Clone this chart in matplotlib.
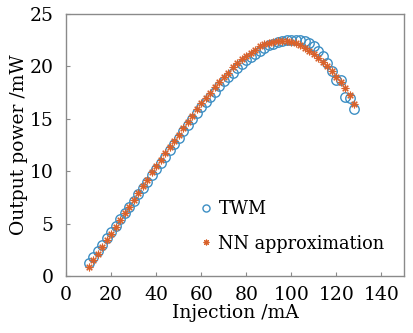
import matplotlib
matplotlib.use("Agg")
import matplotlib.pyplot as plt

# injection current (mA), one sample every 2 mA
injection = list(range(10, 130, 2))

twm_power = [1.2, 1.8, 2.4, 3.0, 3.6, 4.2, 4.8, 5.4, 6.0, 6.6,
             7.2, 7.8, 8.4, 9.0, 9.6, 10.2, 10.8, 11.4, 12.0, 12.6,
             13.2, 13.8, 14.4, 15.0, 15.6, 16.1, 16.6, 17.1, 17.6, 18.1,
             18.6, 19.0, 19.4, 19.8, 20.2, 20.6, 20.9, 21.2, 21.5, 21.8,
             22.0, 22.1, 22.3, 22.4, 22.5, 22.5, 22.5, 22.5, 22.4, 22.2,
             21.9, 21.5, 21.0, 20.3, 19.6, 18.7, 18.7, 17.1, 17.0, 15.9]

nn_power = [0.9, 1.5, 2.1, 2.8, 3.4, 4.0, 4.7, 5.3, 6.0, 6.6,
            7.3, 7.9, 8.6, 9.2, 9.9, 10.5, 11.1, 11.7, 12.3, 12.9,
            13.5, 14.1, 14.7, 15.3, 15.9, 16.5, 17.0, 17.5, 18.0, 18.5,
            19.0, 19.4, 19.9, 20.3, 20.7, 21.0, 21.3, 21.6, 21.9, 22.1,
            22.2, 22.3, 22.4, 22.4, 22.4, 22.3, 22.2, 22.0, 21.8, 21.5,
            21.2, 20.8, 20.4, 20.0, 19.6, 19.0, 18.5, 17.9, 17.3, 16.4]

plt.rcParams['font.family'] = ['DejaVu Serif']

fig = plt.figure(figsize=(4.13, 3.33), dpi=100)
ax = fig.add_axes([0.160, 0.171, 0.818, 0.787])

ax.plot(injection, twm_power, linestyle='none', marker='o', markersize=6.8,
        markerfacecolor='none', markeredgecolor='#3d8fc4', markeredgewidth=1.0,
        label='TWM')
ax.plot(injection, nn_power, linestyle='none', marker=(8, 2, 0), markersize=5.5,
        color='#d9622b', markeredgewidth=0.8, label='NN approximation')

ax.set_xlim(0, 150)
ax.set_ylim(0, 25)
ax.set_xticks([0, 20, 40, 60, 80, 100, 120, 140])
ax.set_yticks([0, 5, 10, 15, 20, 25])

for s in ax.spines.values():
    s.set_color('#8a8a8a')
    s.set_linewidth(1.0)
ax.tick_params(direction='in', length=3, color='#8a8a8a', labelsize=13.5)
ax.tick_params(axis='x', pad=7)
ax.tick_params(axis='y', pad=9)

ax.set_xlabel('Injection /mA', fontsize=13.5, labelpad=0)
ax.set_ylabel('Output power /mW', fontsize=13.5, labelpad=1)

ax.legend(loc='lower right', frameon=False, fontsize=12.8, handlelength=0.6,
          handletextpad=0.4, labelspacing=0.95, borderaxespad=0.4,
          markerscale=0.75, bbox_to_anchor=(0.985, 0.035))

fig.savefig('out.png', dpi=100)
